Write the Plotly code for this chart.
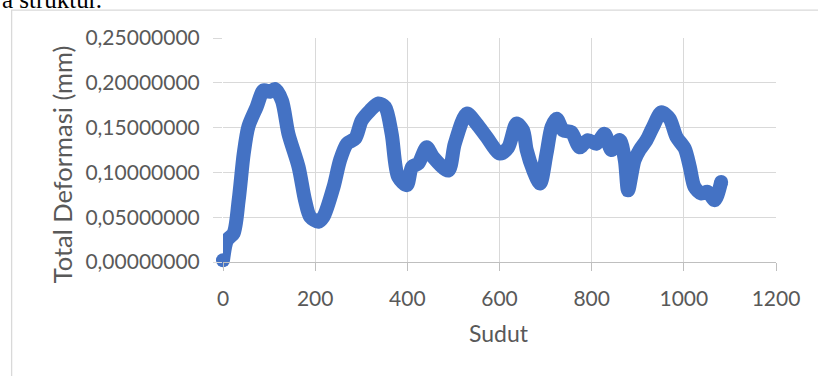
import plotly.graph_objects as go

sudut = [0, 9, 23, 34, 45, 55, 73, 88, 102, 113, 128, 142, 164, 178, 189, 207, 218,
         240, 254, 269, 287, 301, 319, 337, 352, 366, 380, 399, 410, 424, 442, 456,
         489, 503, 529, 550, 572, 601, 619, 637, 651, 659, 673, 688, 702, 713, 724,
         738, 756, 774, 792, 810, 828, 843, 861, 872, 879, 893, 904, 919, 933, 951,
         969, 984, 1002, 1013, 1023, 1038, 1052, 1067, 1081]
deformasi = [0.002, 0.0245, 0.032, 0.069, 0.121, 0.151, 0.173, 0.1916, 0.19, 0.193,
             0.18, 0.143, 0.106, 0.069, 0.0505, 0.045, 0.0505, 0.084, 0.1136, 0.132,
             0.138, 0.158, 0.169, 0.177, 0.173, 0.143, 0.095, 0.0858, 0.106, 0.11,
             0.128, 0.117, 0.102, 0.132, 0.1656, 0.1545, 0.1395, 0.121, 0.128, 0.1545,
             0.147, 0.125, 0.1025, 0.0876, 0.121, 0.1507, 0.16, 0.147, 0.145, 0.128,
             0.136, 0.132, 0.143, 0.125, 0.136, 0.1136, 0.080, 0.1136, 0.125, 0.136,
             0.1507, 0.167, 0.16, 0.1395, 0.1266, 0.106, 0.0839, 0.0765, 0.0783,
             0.069, 0.0894]

x_ticks = [0, 200, 400, 600, 800, 1000, 1200]
y_ticks = [0, 0.05, 0.10, 0.15, 0.20, 0.25]

BLUE = "#4472C4"
GRID = "#d9d9d9"
TXT = "#595959"
FONT = "Lato"

W, H = 818, 376
L, R, T, B = 222.7, 41.5, 37.5, 114
pw, ph = W - L - R, H - T - B


def px2paper_x(px):
    return (px - L) / pw


def px2paper_y(py):
    return (H - B - py) / ph


fig = go.Figure()
fig.add_trace(go.Scatter(
    x=sudut, y=deformasi, mode="lines",
    line=dict(color=BLUE, width=14, shape="spline", smoothing=0.8),
    cliponaxis=False, hoverinfo="skip"))
fig.add_trace(go.Scatter(
    x=[sudut[0], sudut[-1]], y=[deformasi[0], deformasi[-1]], mode="markers",
    marker=dict(color=BLUE, size=14, line=dict(width=0)),
    cliponaxis=False, hoverinfo="skip"))

fig.update_layout(
    width=W, height=H,
    margin=dict(l=L, r=R, t=T, b=B, pad=0),
    paper_bgcolor="white", plot_bgcolor="white",
    showlegend=False,
    separators=",.",
    font=dict(family=FONT, color=TXT, size=21),
    xaxis=dict(range=[0, 1200], tickvals=x_ticks, showgrid=True, gridcolor=GRID,
               gridwidth=1.3, zeroline=False, showline=True, linecolor="#bfbfbf",
               linewidth=1.3, ticks="outside", ticklen=8, tickcolor="#bfbfbf",
               tickwidth=1.3, tickfont=dict(family=FONT, size=21, color=TXT),
               ticklabelstandoff=10),
    yaxis=dict(range=[0, 0.25], tickvals=y_ticks, tickformat=".8f", showgrid=True,
               gridcolor=GRID, gridwidth=1.3, zeroline=False, showline=False,
               ticks="outside", ticklen=9, tickcolor=GRID, tickwidth=1.3,
               tickfont=dict(family=FONT, size=21, color=TXT),
               ticklabelstandoff=9),
    annotations=[
        dict(text="Sudut", x=px2paper_x(499), y=px2paper_y(333), xref="paper",
             yref="paper", showarrow=False, xanchor="center", yanchor="middle",
             font=dict(family=FONT, size=23, color=TXT)),
        dict(text="Total Deformasi (mm)", x=px2paper_x(61), y=px2paper_y(164.5),
             xref="paper", yref="paper", showarrow=False, textangle=-90,
             xanchor="center", yanchor="middle",
             font=dict(family=FONT, size=25.5, color=TXT)),
        dict(text="a struktur.", x=px2paper_x(-1), y=px2paper_y(14.5), xref="paper",
             yref="paper", showarrow=False, xanchor="left", yanchor="bottom",
             font=dict(family="Liberation Serif", size=25, color="black")),
    ],
    shapes=[
        dict(type="rect", xref="paper", yref="paper", x0=px2paper_x(11),
             x1=px2paper_x(W + 20), y0=px2paper_y(H + 20), y1=px2paper_y(9.5),
             line=dict(color=GRID, width=1.3), fillcolor="rgba(0,0,0,0)",
             layer="below"),
    ],
)

fig.write_html("out.html", config={"displayModeBar": False},
               post_script="document.body.style.margin='0';")
